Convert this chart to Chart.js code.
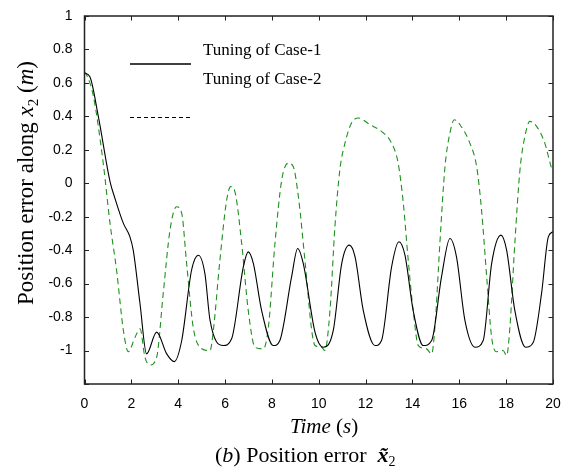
<!DOCTYPE html>
<html>
<head>
<meta charset="utf-8">
<script src="https://cdn.jsdelivr.net/npm/chart.js@4"></script>
<style>
  html, body { margin: 0; padding: 0; background: #fff; }
  #wrap { width: 568px; height: 474px; position: relative; }
</style>
</head>
<body>
<div id="wrap"><canvas id="errChart"></canvas></div>
<script>
// Position error along x2 - two tunings compared

const case1T = [0, 0.23, 0.59, 1.09, 1.3, 1.66, 1.94, 2.08, 2.37, 2.65, 3.08, 3.51, 3.83, 4.15, 4.57, 4.86,
    5.14, 5.36, 5.92, 6.28, 6.78, 6.99, 7.21, 7.56, 8.06, 8.34, 8.84, 9.10, 9.34, 9.84, 10.19,
    10.62, 10.98, 11.30, 11.55, 11.90, 12.40, 12.68, 13.11, 13.42, 13.68, 14.03, 14.46, 14.82,
    15.24, 15.60, 15.88, 16.24, 16.67, 17.02, 17.38, 17.78, 18.02, 18.37, 18.83, 19.16, 19.51, 19.80, 20];
const case1Y = [0.66, 0.637, 0.40, 0.01, -0.09, -0.24, -0.32, -0.40, -0.72, -1.02, -0.89, -1.02, -1.066, -0.94, -0.52, -0.43,
    -0.54, -0.82, -0.97, -0.93, -0.50, -0.41, -0.48, -0.76, -0.97, -0.94, -0.56, -0.39, -0.48, -0.89, -0.98,
    -0.88, -0.48, -0.37, -0.44, -0.76, -0.97, -0.94, -0.50, -0.35, -0.43, -0.76, -0.97, -0.94,
    -0.56, -0.33, -0.44, -0.82, -0.98, -0.94, -0.48, -0.31, -0.40, -0.76, -0.98, -0.95, -0.66, -0.32, -0.29];

const case2T = [0, 0.15, 0.38, 0.80, 1.09, 1.37, 1.66, 1.87, 2.16, 2.37, 2.58, 2.80, 3.08, 3.36, 3.65, 3.93, 4.15,
    4.36, 4.64, 4.93, 5.36, 5.50, 5.78, 6.07, 6.24, 6.42, 6.71, 6.99, 7.28, 7.63, 7.85, 8.13, 8.42,
    8.70, 8.91, 9.13, 9.41, 9.70, 9.84, 10.12, 10.26, 10.48, 10.69, 10.90, 11.12, 11.40, 11.69,
    12.19, 12.68, 13.11, 13.39, 13.61, 13.82, 14.03, 14.25, 14.60, 14.82, 14.96, 15.17, 15.39,
    15.60, 15.78, 16.03, 16.45, 16.74, 16.95, 17.17, 17.38, 17.59, 17.87, 18.02, 18.16, 18.37,
    18.59, 18.80, 19.01, 19.30, 19.65, 19.94, 20];
const case2Y = [0.667, 0.63, 0.52, 0.12, -0.24, -0.52, -0.88, -1.007, -0.92, -0.87, -1.04, -1.086, -1.04, -0.66, -0.28, -0.14, -0.18,
    -0.48, -0.86, -0.98, -1.0, -0.88, -0.46, -0.10, -0.02, -0.05, -0.36, -0.76, -0.98, -0.99, -0.86, -0.36, 0.02,
    0.12, 0.10, -0.08, -0.46, -0.88, -0.97, -0.98, -1.0, -0.76, -0.26, 0.08, 0.24, 0.36, 0.39,
    0.35, 0.31, 0.24, 0.12, -0.12, -0.46, -0.76, -0.97, -0.99, -1.02, -0.86, -0.36, 0.10,
    0.30, 0.38, 0.35, 0.24, 0.10, -0.16, -0.56, -0.92, -1.007, -1.0, -1.03, -0.86, -0.36,
    0.08, 0.28, 0.37, 0.34, 0.24, 0.09, 0.07];

const xTickValues = [0, 2, 4, 6, 8, 10, 12, 14, 16, 18, 20];
const yTickValues = [-1.2, -1, -0.8, -0.6, -0.4, -0.2, 0, 0.2, 0.4, 0.6, 0.8, 1];

const legendLabels = ['Tuning of Case-1', 'Tuning of Case-2'];

const GREEN = '#1f901f';
const TICK_FONT = { family: '"Liberation Sans", Arial, sans-serif', size: 14 };
const SERIF = '"Liberation Serif", "Times New Roman", serif';

function pts(ts, ys) {
    return ts.map((t, i) => ({ x: t, y: ys[i] }));
}

// draws a list of [text, font, dy] pieces on one baseline
function drawRuns(ctx, runs, x0, align) {
    let total = 0;
    runs.forEach(r => { ctx.font = r[1]; total += ctx.measureText(r[0]).width; });
    let x = align === 'center' ? x0 - total / 2 : x0;
    runs.forEach(r => {
        ctx.font = r[1];
        ctx.fillText(r[0], x, r[2] || 0);
        x += ctx.measureText(r[0]).width;
    });
}

const framePlugin = {
    id: 'frame',
    afterDraw(c) {
        const ctx = c.ctx;
        const a = c.chartArea;
        const xs = c.scales.x, ys = c.scales.y;
        ctx.save();

        // box
        ctx.strokeStyle = '#222';
        ctx.lineWidth = 1.5;
        ctx.strokeRect(a.left, a.top, a.right - a.left, a.bottom - a.top);

        // inward ticks on all four sides
        ctx.lineWidth = 1;
        ctx.beginPath();
        xTickValues.forEach(v => {
            const px = Math.round(xs.getPixelForValue(v)) + 0.5;
            ctx.moveTo(px, a.bottom); ctx.lineTo(px, a.bottom - 4.5);
            ctx.moveTo(px, a.top); ctx.lineTo(px, a.top + 4.5);
        });
        yTickValues.forEach(v => {
            const py = Math.round(ys.getPixelForValue(v)) + 0.5;
            ctx.moveTo(a.left, py); ctx.lineTo(a.left + 4.5, py);
            ctx.moveTo(a.right, py); ctx.lineTo(a.right - 4.5, py);
        });
        ctx.stroke();

        // legend (same odd offsets as the original figure)
        ctx.strokeStyle = '#000';
        ctx.lineWidth = 1.3;
        ctx.beginPath();
        ctx.moveTo(130, 64); ctx.lineTo(191, 64);
        ctx.stroke();
        ctx.lineWidth = 1.2;
        ctx.setLineDash([4, 3]);
        ctx.beginPath();
        ctx.moveTo(130, 117.5); ctx.lineTo(192, 117.5);
        ctx.stroke();
        ctx.setLineDash([]);
        ctx.fillStyle = '#000';
        ctx.textBaseline = 'alphabetic';
        ctx.textAlign = 'left';
        ctx.font = '17px ' + SERIF;
        ctx.fillText(legendLabels[0], 203, 55);
        ctx.fillText(legendLabels[1], 203, 84);

        // y axis title
        ctx.save();
        ctx.translate(33, 183);
        ctx.rotate(-Math.PI / 2);
        drawRuns(ctx, [
            ['Position error along ', '23px ' + SERIF],
            ['x', 'italic 23px ' + SERIF],
            ['2', '15px ' + SERIF, 5],
            [' (', '23px ' + SERIF],
            ['m', 'italic 23px ' + SERIF],
            [')', '23px ' + SERIF]
        ], 0, 'center');
        ctx.restore();

        // x axis title
        ctx.save();
        ctx.translate(0, 433);
        drawRuns(ctx, [
            ['Time', 'italic 21px ' + SERIF],
            [' (', '21px ' + SERIF],
            ['s', 'italic 21px ' + SERIF],
            [')', '21px ' + SERIF]
        ], 290, 'left');
        ctx.restore();

        // caption
        ctx.save();
        ctx.translate(0, 462);
        drawRuns(ctx, [
            ['(', '22px ' + SERIF],
            ['b', 'italic 22px ' + SERIF],
            [') Position error  ', '22px ' + SERIF],
            ['x\u0303', 'bold italic 22px ' + SERIF],
            ['2', '14px ' + SERIF, 4]
        ], 215, 'left');
        ctx.restore();

        ctx.restore();
    }
};

function buildChart() {
    const ctx = document.getElementById('errChart').getContext('2d');
    return new Chart(ctx, {
        type: 'line',
        data: {
            datasets: [
                { label: legendLabels[0], data: pts(case1T, case1Y), borderColor: '#000', borderWidth: 1.1 },
                { label: legendLabels[1], data: pts(case2T, case2Y), borderColor: GREEN, borderWidth: 1.1, borderDash: [6, 4] }
            ]
        },
        options: {
            responsive: true,
            maintainAspectRatio: false,
            animation: false,
            layout: { padding: { left: 0, right: 15, top: 16, bottom: 0 } },
            elements: {
                point: { radius: 0 },
                line: { cubicInterpolationMode: 'monotone', fill: false }
            },
            plugins: {
                legend: { display: false },
                tooltip: { enabled: false }
            },
            scales: {
                x: {
                    type: 'linear',
                    min: 0,
                    max: 20,
                    afterBuildTicks: (s) => { s.ticks = xTickValues.map(v => ({ value: v })); },
                    afterFit: (s) => { s.height = 90; },
                    grid: { display: false },
                    border: { display: false },
                    ticks: { font: TICK_FONT, color: '#000', padding: 4, maxRotation: 0, autoSkip: false,
                        callback: (v) => String(v) }
                },
                y: {
                    min: -1.2,
                    max: 1,
                    afterBuildTicks: (s) => { s.ticks = yTickValues.map(v => ({ value: v })); },
                    afterFit: (s) => { s.width = 84.5; },
                    grid: { display: false },
                    border: { display: false },
                    ticks: { font: TICK_FONT, color: '#000', padding: 4, autoSkip: false,
                        callback: (v) => (v < -1.1 ? '' : String(Math.round(v * 10) / 10)) }
                }
            }
        },
        plugins: [framePlugin]
    });
}

buildChart();
</script>
</body>
</html>
